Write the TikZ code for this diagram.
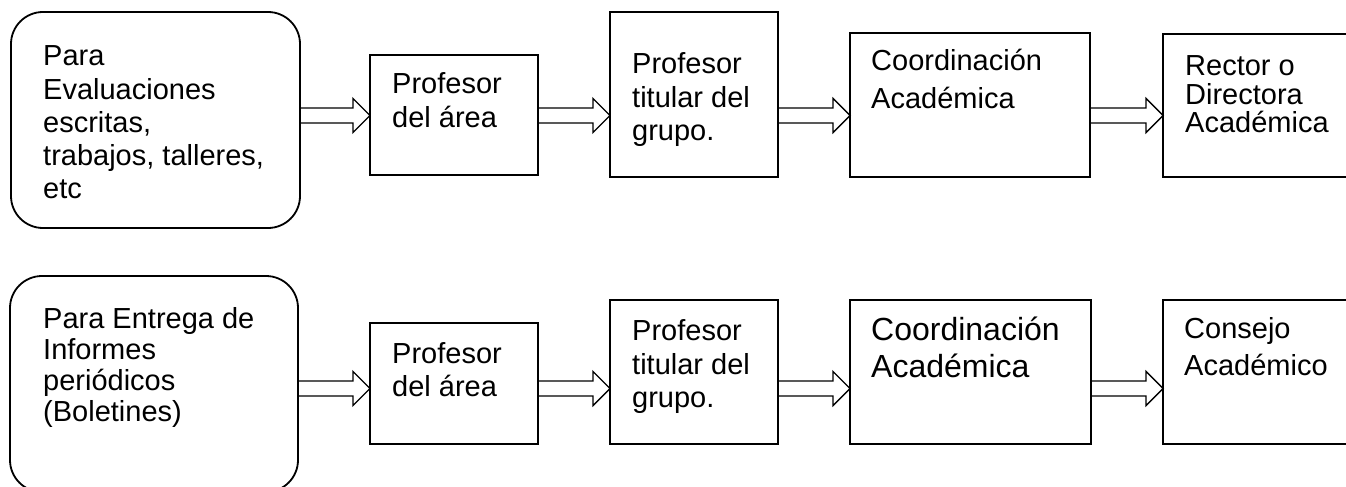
\documentclass[tikz,border=0pt]{standalone}
\usepackage{fontspec}
\setmainfont{Liberation Sans}
\usetikzlibrary{calc}
\begin{document}
\begin{tikzpicture}[x=1pt,y=-1pt,
  box/.style={draw=black, line width=1.8pt, rectangle, inner sep=0pt, outer sep=0pt, anchor=north west},
  rbox/.style={box, rounded corners=32pt},
  txt/.style={anchor=base west, inner sep=0pt, font=\fontsize{29}{33.3}\selectfont},
  blockarrow/.style={draw=black, line width=1.4pt, line join=miter,
    to path={let \p1=(\tikztostart), \p2=(\tikztotarget) in
      (\x1,\y1+7.5pt) -- (\x2-17pt,\y1+7.5pt) -- (\x2-17pt,\y1+17pt) -- (\x2,\y1)
      -- (\x2-17pt,\y1-17pt) -- (\x2-17pt,\y1-7.5pt) -- (\x1,\y1-7.5pt) -- cycle}}
]
\useasboundingbox (0,0) rectangle (1346,487);
\clip (0,0) rectangle (1346,487);
\coordinate (row1) at (0,115.5);
\coordinate (row2) at (0,388.5);
% row 1
\node[rbox, minimum width=289pt, minimum height=216pt] (r1) at (11,12) {};
\node[box, minimum width=168pt, minimum height=120pt] (a1) at (370,55) {};
\node[box, minimum width=168pt, minimum height=165pt] (b1) at (610,12) {};
\node[box, minimum width=240pt, minimum height=144pt] (c1) at (850,33) {};
\node[box, minimum width=240pt, minimum height=143pt] (d1) at (1163,34) {};
\node[txt] (tr1) at (43,65.8) {\vtop{\hbox{Para}\hbox{Evaluaciones}\hbox{escritas,}\hbox{trabajos, talleres,}\hbox{etc}}};
\node[txt, font=\fontsize{29}{34}\selectfont] (ta1) at (392,93.8) {\vtop{\hbox{Profesor}\hbox{del área}}};
\node[txt, font=\fontsize{29}{33.5}\selectfont] (tb1) at (632,73.8) {\vtop{\hbox{Profesor}\hbox{titular del}\hbox{grupo.}}};
\node[txt, font=\fontsize{29}{38}\selectfont] (tc1) at (871,70.8) {\vtop{\hbox{Coordinación}\hbox{Académica}}};
\node[txt, font=\fontsize{29}{28.5}\selectfont] (td1) at (1185,75.8) {\vtop{\hbox{Rector o}\hbox{Directora}\hbox{Académica}}};
\draw[blockarrow] (r1.east |- row1) to (a1.west |- row1);
\draw[blockarrow] (a1.east |- row1) to (b1.west |- row1);
\draw[blockarrow] (b1.east |- row1) to (c1.west |- row1);
\draw[blockarrow] (c1.east |- row1) to (d1.west |- row1);
% row 2
\node[rbox, minimum width=288pt, minimum height=216pt] (r2) at (10,276) {};
\node[box, minimum width=168pt, minimum height=121pt] (a2) at (370,323) {};
\node[box, minimum width=168pt, minimum height=144pt] (b2) at (610,300) {};
\node[box, minimum width=241pt, minimum height=144pt] (c2) at (850,300) {};
\node[box, minimum width=240pt, minimum height=144pt] (d2) at (1163,300) {};
\node[txt, font=\fontsize{29}{31}\selectfont] (tr2) at (43,328.8) {\vtop{\hbox{Para Entrega de}\hbox{Informes}\hbox{periódicos}\hbox{(Boletines)}}};
\node[txt, font=\fontsize{29}{33}\selectfont] (ta2) at (392,363.8) {\vtop{\hbox{Profesor}\hbox{del área}}};
\node[txt, font=\fontsize{29}{33.5}\selectfont] (tb2) at (632,340.8) {\vtop{\hbox{Profesor}\hbox{titular del}\hbox{grupo.}}};
\node[txt, font=\fontsize{32}{36.7}\selectfont] (tc2) at (871,340.9) {\vtop{\hbox{Coordinación}\hbox{Académica}}};
\node[txt, font=\fontsize{29}{36.7}\selectfont] (td2) at (1184,338.8) {\vtop{\hbox{Consejo}\hbox{Académico}}};
\draw[blockarrow] (r2.east |- row2) to (a2.west |- row2);
\draw[blockarrow] (a2.east |- row2) to (b2.west |- row2);
\draw[blockarrow] (b2.east |- row2) to (c2.west |- row2);
\draw[blockarrow] (c2.east |- row2) to (d2.west |- row2);
\end{tikzpicture}
\end{document}
